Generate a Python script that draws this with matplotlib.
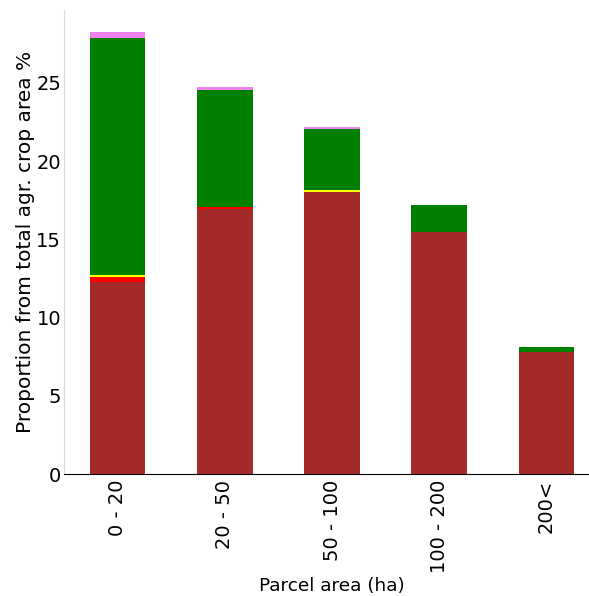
import matplotlib
matplotlib.use("Agg")
import matplotlib.pyplot as plt
import numpy as np

categories = ["0 - 20", "20 - 50", "50 - 100", "100 - 200", "200<"]
brown_vals = [12.3, 16.95, 18.05, 15.5, 7.8]
red_vals = [0.3, 0.15, 0.0, 0.0, 0.0]
yellow_vals = [0.15, 0.0, 0.08, 0.0, 0.0]
green_vals = [15.1, 7.45, 3.95, 1.72, 0.34]
violet_vals = [0.4, 0.2, 0.1, 0.0, 0.0]

series = [brown_vals, red_vals, yellow_vals, green_vals, violet_vals]
colors = ["brown", "red", "yellow", "green", "violet"]

fig = plt.figure(figsize=(5.89, 5.96), dpi=100)
ax = fig.add_axes([64/589, 1 - 474/596, (600 - 64)/589, (474 - 10)/596])

x = np.arange(len(categories))
bottom = np.zeros(len(categories))
for vals, c in zip(series, colors):
    ax.bar(x, vals, width=0.52, bottom=bottom, color=c)
    bottom += np.array(vals)

ax.set_xlim(-0.5, 4.5)
ax.set_ylim(0, max(bottom) * 1.05)
ax.set_xticks(x)
ax.set_xticklabels(categories, rotation=90, fontsize=14)
ax.set_yticks([0, 5, 10, 15, 20, 25])
ax.tick_params(axis='y', labelsize=14, length=0, pad=2)
ax.tick_params(axis='x', length=0, pad=4)
ax.set_ylabel("Proportion from total agr. crop area %", fontsize=14.5, labelpad=1)
ax.set_xlabel("Parcel area (ha)", fontsize=13.3, labelpad=3)
for s in ["top", "right"]:
    ax.spines[s].set_visible(False)
ax.spines["left"].set_color("#d9d9d9")
ax.spines["bottom"].set_color("black")

fig.savefig("out.png", dpi=100)
